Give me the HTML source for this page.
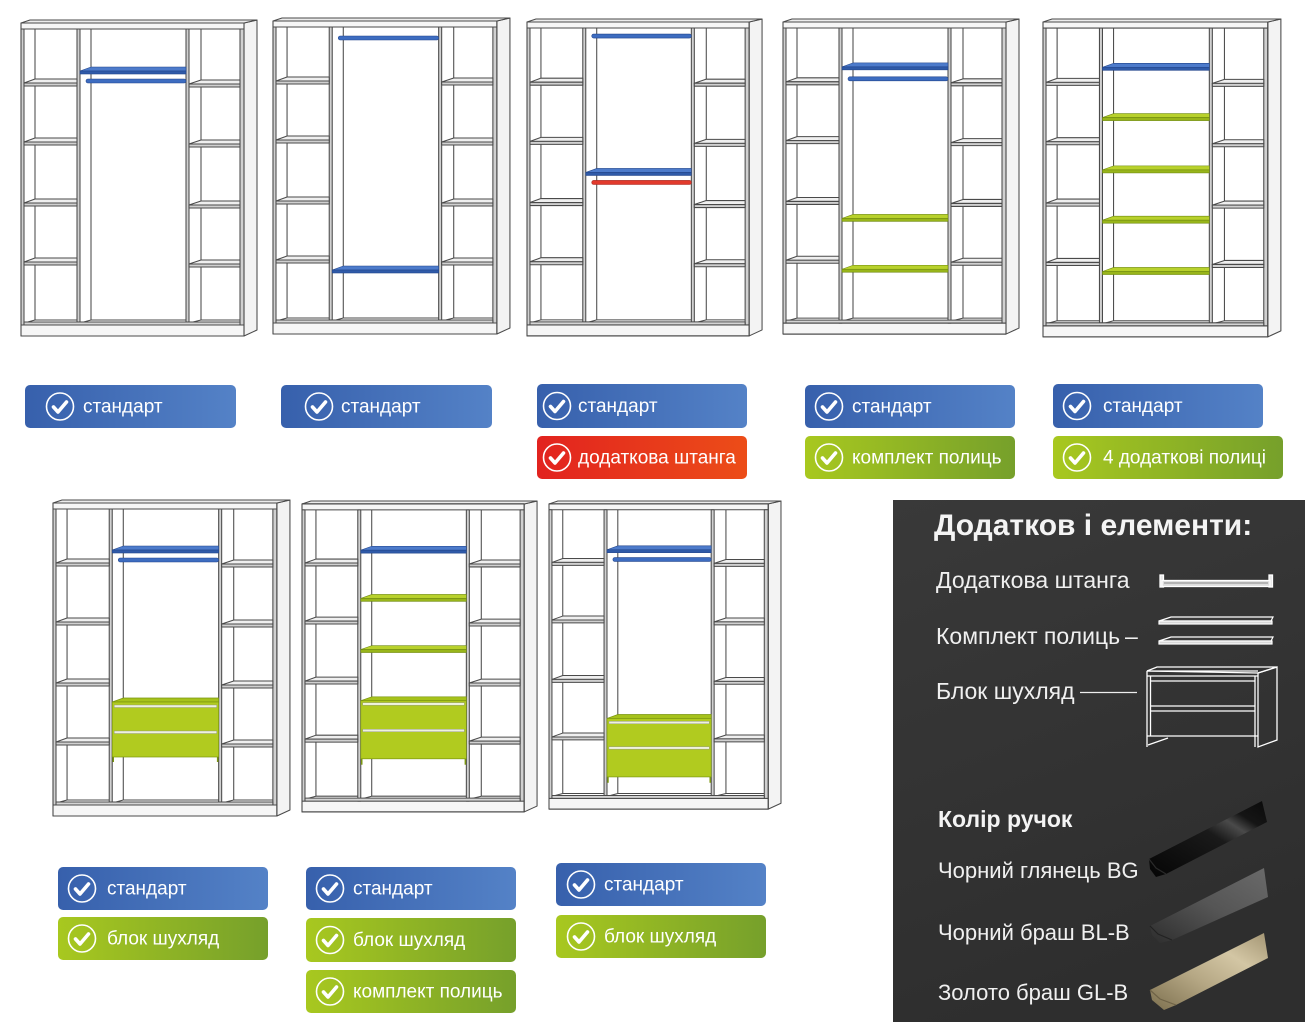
<!DOCTYPE html>
<html><head><meta charset="utf-8"><style>
html,body{margin:0;padding:0;background:#fff;width:1305px;height:1022px;overflow:hidden}
svg{display:block}
text{font-family:"Liberation Sans","DejaVu Sans",sans-serif}
</style></head><body>
<svg width="1305" height="1022" viewBox="0 0 1305 1022" xmlns="http://www.w3.org/2000/svg">
<defs>
 <linearGradient id="gBlue" x1="0" y1="0" x2="1" y2="0"><stop offset="0" stop-color="#3760ac"/><stop offset="1" stop-color="#5482c7"/></linearGradient>
 <linearGradient id="gGreen" x1="0" y1="0" x2="1" y2="0"><stop offset="0" stop-color="#a8c81f"/><stop offset="1" stop-color="#76a02b"/></linearGradient>
 <linearGradient id="gRed" x1="0" y1="0" x2="1" y2="0"><stop offset="0" stop-color="#e2231f"/><stop offset="1" stop-color="#ec4d18"/></linearGradient>
 <linearGradient id="gPanel" x1="0" y1="0" x2="0.3" y2="1"><stop offset="0" stop-color="#393939"/><stop offset="1" stop-color="#2e2e2e"/></linearGradient>
 <linearGradient id="hBlack" x1="0" y1="1" x2="1" y2="0"><stop offset="0" stop-color="#050505"/><stop offset="0.55" stop-color="#1a1a1a"/><stop offset="0.7" stop-color="#4a4a4a"/><stop offset="0.8" stop-color="#151515"/><stop offset="1" stop-color="#0a0a0a"/></linearGradient>
 <linearGradient id="hGray" x1="0" y1="1" x2="1" y2="0"><stop offset="0" stop-color="#2e2e2e"/><stop offset="0.5" stop-color="#555"/><stop offset="1" stop-color="#6a6a6a"/></linearGradient>
 <linearGradient id="hGold" x1="0" y1="1" x2="1" y2="0"><stop offset="0" stop-color="#7d704f"/><stop offset="0.4" stop-color="#b5a784"/><stop offset="0.7" stop-color="#d3c6a4"/><stop offset="1" stop-color="#a39573"/></linearGradient>

 <g id="wr" stroke="#4a4a4a" stroke-width="1.05" stroke-linejoin="round">
  <polygon points="223,3 236,0 236,310 223,316" fill="#f3f3f3"/>
  <polygon points="0,3 9,0 236,0 223,3" fill="#ececec"/>
  <rect x="0" y="3" width="223" height="6" fill="#f6f6f6"/>
  <rect x="0" y="305" width="223" height="11" fill="#f6f6f6"/>
  <rect x="0" y="9" width="3" height="296" fill="#d0d0d0"/>
  <rect x="219" y="9" width="4" height="296" fill="#d0d0d0"/>
  <line x1="14" y1="9" x2="14" y2="300"/>
  <line x1="70" y1="9" x2="70" y2="300"/>
  <line x1="180" y1="9" x2="180" y2="300"/>
  <rect x="56" y="9" width="3" height="296" fill="#d0d0d0"/>
  <rect x="165" y="9" width="3" height="296" fill="#d0d0d0"/>
  <line x1="14" y1="300" x2="56" y2="300"/>
  <line x1="70" y1="300" x2="165" y2="300"/>
  <line x1="180" y1="300" x2="219" y2="300"/>
  <line x1="3" y1="303" x2="14" y2="300"/>
  <line x1="59" y1="303" x2="70" y2="300"/>
  <line x1="168" y1="303" x2="180" y2="300"/>
  <rect x="3" y="302" width="216" height="3" fill="#d4d4d4"/>
  <polygon points="3,63 14,59 56,59 56,63" fill="#efefef"/><rect x="3" y="63" width="53" height="3" fill="#d0d0d0"/>
  <polygon points="3,122 14,118 56,118 56,122" fill="#efefef"/><rect x="3" y="122" width="53" height="3" fill="#d0d0d0"/>
  <polygon points="3,183 14,179 56,179 56,183" fill="#efefef"/><rect x="3" y="183" width="53" height="3" fill="#d0d0d0"/>
  <polygon points="3,242 14,238 56,238 56,242" fill="#efefef"/><rect x="3" y="242" width="53" height="3" fill="#d0d0d0"/>
  <polygon points="168,64 180,60 219,60 219,64" fill="#efefef"/><rect x="168" y="64" width="51" height="3" fill="#d0d0d0"/>
  <polygon points="168,124 180,120 219,120 219,124" fill="#efefef"/><rect x="168" y="124" width="51" height="3" fill="#d0d0d0"/>
  <polygon points="168,185 180,181 219,181 219,185" fill="#efefef"/><rect x="168" y="185" width="51" height="3" fill="#d0d0d0"/>
  <polygon points="168,244 180,240 219,240 219,244" fill="#efefef"/><rect x="168" y="244" width="51" height="3" fill="#d0d0d0"/>
  <rect x="0" y="3" width="223" height="313" fill="none"/>
 </g>
</defs>

<!-- W1 -->
<g transform="translate(21,20)">
 <use href="#wr"/>
 <g stroke="#23468c" stroke-width="0.6">
  <polygon points="70,47 165,47 165,51 59,51" fill="#4d7bcb"/><rect x="59" y="51" width="106" height="3" fill="#2f5aa8"/>
  <rect x="65" y="59" width="100" height="4" rx="2" fill="#3d6cc0"/>
 </g>
</g>
<!-- W2 -->
<g transform="translate(273,18) scale(1.004,1)">
 <use href="#wr"/>
 <g stroke="#23468c" stroke-width="0.6">
  <rect x="65" y="18" width="100" height="4" rx="2" fill="#3d6cc0"/>
  <polygon points="70,248 165,248 165,252 59,252" fill="#4d7bcb"/><rect x="59" y="252" width="106" height="3" fill="#2f5aa8"/>
 </g>
</g>
<!-- W3 -->
<g transform="translate(527,19) scale(0.996,1.003)">
 <use href="#wr"/>
 <g stroke="#23468c" stroke-width="0.6">
  <rect x="65" y="15" width="100" height="4" rx="2" fill="#3d6cc0"/>
  <polygon points="70,149 165,149 165,153 59,153" fill="#4d7bcb"/><rect x="59" y="153" width="106" height="3" fill="#2f5aa8"/>
 </g>
 <rect x="65" y="161" width="100" height="4" rx="2" fill="#e23a2c" stroke="#a3221a" stroke-width="0.6"/>
</g>
<!-- W4 -->
<g transform="translate(783,19) scale(1,0.997)">
 <use href="#wr"/>
 <g stroke="#23468c" stroke-width="0.6">
  <polygon points="70,44 165,44 165,48 59,48" fill="#4d7bcb"/><rect x="59" y="48" width="106" height="3" fill="#2f5aa8"/>
  <rect x="65" y="58" width="100" height="4" rx="2" fill="#3d6cc0"/>
 </g>
 <g stroke="#6f8a10" stroke-width="0.6">
  <polygon points="70,196 165,196 165,200 59,200" fill="#b8d12c"/><rect x="59" y="200" width="106" height="3" fill="#98b51a"/>
  <polygon points="70,247 165,247 165,251 59,251" fill="#b8d12c"/><rect x="59" y="251" width="106" height="3" fill="#98b51a"/>
 </g>
</g>
<!-- W5 -->
<g transform="translate(1043,19) scale(1.008,1.006)">
 <use href="#wr"/>
 <g stroke="#23468c" stroke-width="0.6">
  <polygon points="70,44 165,44 165,48 59,48" fill="#4d7bcb"/><rect x="59" y="48" width="106" height="3" fill="#2f5aa8"/>
 </g>
 <g stroke="#6f8a10" stroke-width="0.6">
  <polygon points="70,94 165,94 165,98 59,98" fill="#b8d12c"/><rect x="59" y="98" width="106" height="3" fill="#98b51a"/>
  <polygon points="70,146 165,146 165,150 59,150" fill="#b8d12c"/><rect x="59" y="150" width="106" height="3" fill="#98b51a"/>
  <polygon points="70,196 165,196 165,200 59,200" fill="#b8d12c"/><rect x="59" y="200" width="106" height="3" fill="#98b51a"/>
  <polygon points="70,247 165,247 165,251 59,251" fill="#b8d12c"/><rect x="59" y="251" width="106" height="3" fill="#98b51a"/>
 </g>
</g>
<!-- W6 -->
<g transform="translate(53,500) scale(1.004,1)">
 <use href="#wr"/>
 <g stroke="#23468c" stroke-width="0.6">
  <polygon points="70,46 165,46 165,50 59,50" fill="#4d7bcb"/><rect x="59" y="50" width="106" height="3" fill="#2f5aa8"/>
  <rect x="65" y="58" width="100" height="4" rx="2" fill="#3d6cc0"/>
 </g>
 <g stroke="#7a950f" stroke-width="0.7">
  <polygon points="59,202 70,198 165,198 165,202" fill="#a6c21b"/>
  <rect x="59" y="202" width="106" height="55" fill="#b1cb1f"/>
  <rect x="61" y="205" width="102" height="2.5" fill="#eef2dc" stroke="#8a8a8a" stroke-width="0.4"/>
  <rect x="61" y="231" width="102" height="2.5" fill="#eef2dc" stroke="#8a8a8a" stroke-width="0.4"/>
  <line x1="60" y1="257" x2="60" y2="262" stroke-width="1.5"/><line x1="164" y1="257" x2="164" y2="262" stroke-width="1.5"/>
 </g>
</g>
<!-- W7 -->
<g transform="translate(302,501) scale(0.996,0.984)">
 <use href="#wr"/>
 <g stroke="#23468c" stroke-width="0.6">
  <polygon points="70,46 165,46 165,50 59,50" fill="#4d7bcb"/><rect x="59" y="50" width="106" height="3" fill="#2f5aa8"/>
 </g>
 <g stroke="#6f8a10" stroke-width="0.6">
  <polygon points="70,95 165,95 165,99 59,99" fill="#b8d12c"/><rect x="59" y="99" width="106" height="3" fill="#98b51a"/>
  <polygon points="70,147 165,147 165,151 59,151" fill="#b8d12c"/><rect x="59" y="151" width="106" height="3" fill="#98b51a"/>
 </g>
 <g stroke="#7a950f" stroke-width="0.7">
  <polygon points="59,203 70,199 165,199 165,203" fill="#a6c21b"/>
  <rect x="59" y="203" width="106" height="59" fill="#b1cb1f"/>
  <rect x="61" y="205" width="102" height="2.5" fill="#eef2dc" stroke="#8a8a8a" stroke-width="0.4"/>
  <rect x="61" y="232" width="102" height="2.5" fill="#eef2dc" stroke="#8a8a8a" stroke-width="0.4"/>
  <line x1="60" y1="262" x2="60" y2="268" stroke-width="1.5"/><line x1="164" y1="262" x2="164" y2="268" stroke-width="1.5"/>
 </g>
</g>
<!-- W8 -->
<g transform="translate(549,501) scale(0.983,0.975)">
 <use href="#wr"/>
 <g stroke="#23468c" stroke-width="0.6">
  <polygon points="70,46 165,46 165,50 59,50" fill="#4d7bcb"/><rect x="59" y="50" width="106" height="3" fill="#2f5aa8"/>
  <rect x="65" y="58" width="100" height="4" rx="2" fill="#3d6cc0"/>
 </g>
 <g stroke="#7a950f" stroke-width="0.7">
  <polygon points="59,223 70,219 165,219 165,223" fill="#a6c21b"/>
  <rect x="59" y="223" width="106" height="60" fill="#b1cb1f"/>
  <rect x="61" y="226" width="102" height="2.5" fill="#eef2dc" stroke="#8a8a8a" stroke-width="0.4"/>
  <rect x="61" y="252" width="102" height="2.5" fill="#eef2dc" stroke="#8a8a8a" stroke-width="0.4"/>
  <line x1="60" y1="283" x2="60" y2="289" stroke-width="1.5"/><line x1="164" y1="283" x2="164" y2="289" stroke-width="1.5"/>
 </g>
</g>

<!-- BADGES -->
<g font-size="19" fill="#fff">
 <g transform="translate(25,385)">
  <rect width="211" height="43" rx="5" fill="url(#gBlue)"/>
  <circle cx="35" cy="21.5" r="13.5" fill="none" stroke="#fff" stroke-width="1.6"/>
  <path d="M28.5,22 l4.5,5 l8.5,-10" fill="none" stroke="#fff" stroke-width="3.6" stroke-linecap="round" stroke-linejoin="round"/>
  <text x="58" y="27.5">стандарт</text>
 </g>
 <g transform="translate(281,385)">
  <rect width="211" height="43" rx="5" fill="url(#gBlue)"/>
  <circle cx="38" cy="21.5" r="13.5" fill="none" stroke="#fff" stroke-width="1.6"/>
  <path d="M31.5,22 l4.5,5 l8.5,-10" fill="none" stroke="#fff" stroke-width="3.6" stroke-linecap="round" stroke-linejoin="round"/>
  <text x="60" y="27.5">стандарт</text>
 </g>
 <g transform="translate(537,384)">
  <rect width="210" height="44" rx="5" fill="url(#gBlue)"/>
  <circle cx="20" cy="22" r="13.5" fill="none" stroke="#fff" stroke-width="1.6"/>
  <path d="M13.5,22.5 l4.5,5 l8.5,-10" fill="none" stroke="#fff" stroke-width="3.6" stroke-linecap="round" stroke-linejoin="round"/>
  <text x="41" y="28">стандарт</text>
 </g>
 <g transform="translate(537,436)">
  <rect width="210" height="43" rx="5" fill="url(#gRed)"/>
  <circle cx="20" cy="21.5" r="13.5" fill="none" stroke="#fff" stroke-width="1.6"/>
  <path d="M13.5,22 l4.5,5 l8.5,-10" fill="none" stroke="#fff" stroke-width="3.6" stroke-linecap="round" stroke-linejoin="round"/>
  <text x="41" y="27.5">додаткова штанга</text>
 </g>
 <g transform="translate(805,385)">
  <rect width="210" height="43" rx="5" fill="url(#gBlue)"/>
  <circle cx="24" cy="21.5" r="13.5" fill="none" stroke="#fff" stroke-width="1.6"/>
  <path d="M17.5,22 l4.5,5 l8.5,-10" fill="none" stroke="#fff" stroke-width="3.6" stroke-linecap="round" stroke-linejoin="round"/>
  <text x="47" y="27.5">стандарт</text>
 </g>
 <g transform="translate(805,436)">
  <rect width="210" height="43" rx="5" fill="url(#gGreen)"/>
  <circle cx="24" cy="21.5" r="13.5" fill="none" stroke="#fff" stroke-width="1.6"/>
  <path d="M17.5,22 l4.5,5 l8.5,-10" fill="none" stroke="#fff" stroke-width="3.6" stroke-linecap="round" stroke-linejoin="round"/>
  <text x="47" y="27.5">комплект полиць</text>
 </g>
 <g transform="translate(1053,384)">
  <rect width="210" height="44" rx="5" fill="url(#gBlue)"/>
  <circle cx="24" cy="22" r="13.5" fill="none" stroke="#fff" stroke-width="1.6"/>
  <path d="M17.5,22.5 l4.5,5 l8.5,-10" fill="none" stroke="#fff" stroke-width="3.6" stroke-linecap="round" stroke-linejoin="round"/>
  <text x="50" y="28">стандарт</text>
 </g>
 <g transform="translate(1053,436)">
  <rect width="230" height="43" rx="5" fill="url(#gGreen)"/>
  <circle cx="24" cy="21.5" r="13.5" fill="none" stroke="#fff" stroke-width="1.6"/>
  <path d="M17.5,22 l4.5,5 l8.5,-10" fill="none" stroke="#fff" stroke-width="3.6" stroke-linecap="round" stroke-linejoin="round"/>
  <text x="50" y="27.5">4 додаткові полиці</text>
 </g>
 <g transform="translate(58,867)">
  <rect width="210" height="43" rx="5" fill="url(#gBlue)"/>
  <circle cx="24" cy="21.5" r="13.5" fill="none" stroke="#fff" stroke-width="1.6"/>
  <path d="M17.5,22 l4.5,5 l8.5,-10" fill="none" stroke="#fff" stroke-width="3.6" stroke-linecap="round" stroke-linejoin="round"/>
  <text x="49" y="27.5">стандарт</text>
 </g>
 <g transform="translate(58,917)">
  <rect width="210" height="43" rx="5" fill="url(#gGreen)"/>
  <circle cx="24" cy="21.5" r="13.5" fill="none" stroke="#fff" stroke-width="1.6"/>
  <path d="M17.5,22 l4.5,5 l8.5,-10" fill="none" stroke="#fff" stroke-width="3.6" stroke-linecap="round" stroke-linejoin="round"/>
  <text x="49" y="27.5">блок шухляд</text>
 </g>
 <g transform="translate(306,867)">
  <rect width="210" height="43" rx="5" fill="url(#gBlue)"/>
  <circle cx="24" cy="21.5" r="13.5" fill="none" stroke="#fff" stroke-width="1.6"/>
  <path d="M17.5,22 l4.5,5 l8.5,-10" fill="none" stroke="#fff" stroke-width="3.6" stroke-linecap="round" stroke-linejoin="round"/>
  <text x="47" y="27.5">стандарт</text>
 </g>
 <g transform="translate(306,918)">
  <rect width="210" height="44" rx="5" fill="url(#gGreen)"/>
  <circle cx="24" cy="22" r="13.5" fill="none" stroke="#fff" stroke-width="1.6"/>
  <path d="M17.5,22.5 l4.5,5 l8.5,-10" fill="none" stroke="#fff" stroke-width="3.6" stroke-linecap="round" stroke-linejoin="round"/>
  <text x="47" y="28">блок шухляд</text>
 </g>
 <g transform="translate(306,970)">
  <rect width="210" height="43" rx="5" fill="url(#gGreen)"/>
  <circle cx="24" cy="21.5" r="13.5" fill="none" stroke="#fff" stroke-width="1.6"/>
  <path d="M17.5,22 l4.5,5 l8.5,-10" fill="none" stroke="#fff" stroke-width="3.6" stroke-linecap="round" stroke-linejoin="round"/>
  <text x="47" y="27.5">комплект полиць</text>
 </g>
 <g transform="translate(556,863)">
  <rect width="210" height="43" rx="5" fill="url(#gBlue)"/>
  <circle cx="25" cy="21.5" r="13.5" fill="none" stroke="#fff" stroke-width="1.6"/>
  <path d="M18.5,22 l4.5,5 l8.5,-10" fill="none" stroke="#fff" stroke-width="3.6" stroke-linecap="round" stroke-linejoin="round"/>
  <text x="48" y="27.5">стандарт</text>
 </g>
 <g transform="translate(556,915)">
  <rect width="210" height="43" rx="5" fill="url(#gGreen)"/>
  <circle cx="25" cy="21.5" r="13.5" fill="none" stroke="#fff" stroke-width="1.6"/>
  <path d="M18.5,22 l4.5,5 l8.5,-10" fill="none" stroke="#fff" stroke-width="3.6" stroke-linecap="round" stroke-linejoin="round"/>
  <text x="48" y="27.5">блок шухляд</text>
 </g>
</g>

<!-- DARK PANEL -->
<rect x="893" y="500" width="412" height="522" fill="url(#gPanel)"/>
<text x="934" y="535" font-size="30" font-weight="bold" fill="#f4f4f4">Додатков і елементи:</text>
<g font-size="23" fill="#f0f0f0">
 <text x="936" y="588">Додаткова штанга</text>
 <text x="936" y="644">Комплект полиць<tspan x="1125">–</tspan></text>
 <text x="936" y="699">Блок шухляд</text>
</g>
<line x1="1080" y1="692.5" x2="1137" y2="692.5" stroke="#eee" stroke-width="1.3"/>

<g stroke="#fff" stroke-width="1.3">
 <rect x="1160" y="575" width="3.5" height="12" fill="#e8e8e8"/>
 <rect x="1269" y="575" width="3.5" height="12" fill="#e8e8e8"/>
 <rect x="1162" y="580.5" width="108" height="6" fill="#dedede"/>
 <line x1="1164" y1="583" x2="1268" y2="583" stroke="#8a8a8a" stroke-width="1"/>
</g>
<g stroke="#fff" stroke-width="1.2">
 <polygon points="1159,621 1171,617 1273,617 1271,621" fill="#3a3a3a"/>
 <rect x="1159" y="621" width="113" height="3" fill="#d8d8d8"/>
 <polygon points="1159,641 1171,637 1273,637 1271,641" fill="#3a3a3a"/>
 <rect x="1159" y="641" width="113" height="3" fill="#d8d8d8"/>
</g>
<g stroke="#fff" stroke-width="1.3" fill="none">
 <polygon points="1147,671 1157,667 1277,667 1258,673"/>
 <polygon points="1258,673 1277,667 1277,740 1258,747"/>
 <line x1="1147" y1="671" x2="1258" y2="671"/>
 <line x1="1147" y1="671" x2="1147" y2="747"/>
 <line x1="1150.5" y1="676" x2="1150.5" y2="736"/>
 <line x1="1255" y1="676" x2="1255" y2="747"/>
 <line x1="1147" y1="676" x2="1258" y2="676"/>
 <line x1="1150" y1="681" x2="1255" y2="681"/>
 <line x1="1150" y1="706" x2="1255" y2="706"/>
 <line x1="1150" y1="711" x2="1255" y2="711"/>
 <line x1="1147" y1="736" x2="1258" y2="736"/>
 <line x1="1148" y1="745" x2="1168" y2="738"/>
</g>

<text x="938" y="827" font-size="23" font-weight="bold" fill="#f4f4f4">Колір ручок</text>
<g font-size="22" fill="#f0f0f0">
 <text x="938" y="878">Чорний глянець BG</text>
 <text x="938" y="940">Чорний браш BL-B</text>
 <text x="938" y="1000">Золото браш GL-B</text>
</g>
<polygon points="1149,859 1262,801 1267,822 1166,874 1156,877 1150,869" fill="url(#hBlack)"/>
<path d="M1149,859 L1156,868 L1166,874" fill="none" stroke="#2a2a2a" stroke-width="1.2"/>
<polygon points="1150,926 1264,868 1268,897 1172,940 1160,943 1152,935" fill="url(#hGray)"/>
<path d="M1150,926 L1158,934 L1172,940" fill="none" stroke="#222" stroke-width="1.2"/>
<polygon points="1150,990 1264,933 1268,958 1176,1005 1164,1010 1152,1000" fill="url(#hGold)"/>
<path d="M1150,990 L1160,999 L1176,1005" fill="none" stroke="#6e6246" stroke-width="1.2"/>
</svg>
</body></html>
